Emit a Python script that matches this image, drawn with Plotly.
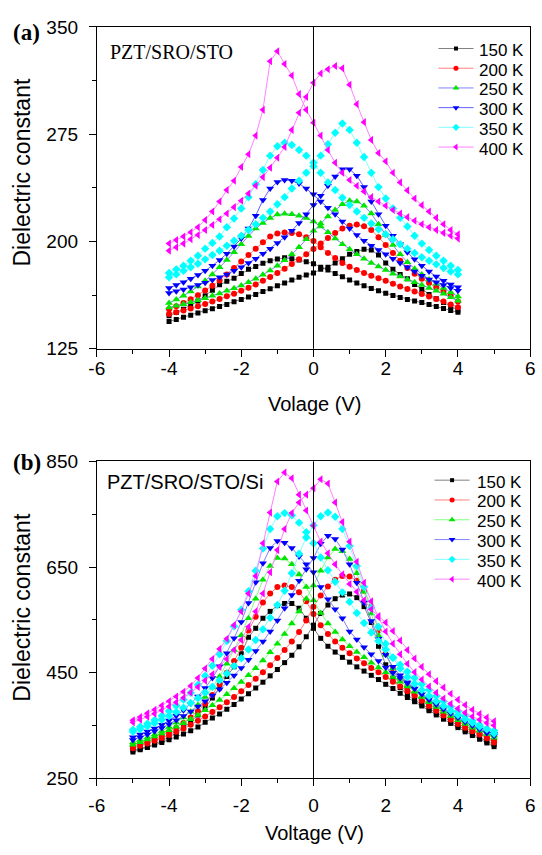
import plotly.graph_objects as go

W, H = 542, 855

# ---------------- data ----------------
temps = ["150 K", "200 K", "250 K", "300 K", "350 K", "400 K"]

volt_a = [-4.0, -3.8, -3.6, -3.4, -3.2, -3.0, -2.8, -2.6, -2.4, -2.2,
          -2.0, -1.8, -1.6, -1.4, -1.2, -1.0, -0.8, -0.6, -0.4, -0.2,
          0.0, 0.2, 0.4, 0.6, 0.8, 1.0, 1.2, 1.4, 1.6, 1.8,
          2.0, 2.2, 2.4, 2.6, 2.8, 3.0, 3.2, 3.4, 3.6, 3.8, 4.0]

volt_b = [-5.0, -4.8, -4.6, -4.4, -4.2, -4.0, -3.8, -3.6, -3.4, -3.2,
          -3.0, -2.8, -2.6, -2.4, -2.2, -2.0, -1.8, -1.6, -1.4, -1.2,
          -1.0, -0.8, -0.6, -0.4, -0.2, 0.0, 0.2, 0.4, 0.6, 0.8,
          1.0, 1.2, 1.4, 1.6, 1.8, 2.0, 2.2, 2.4, 2.6, 2.8,
          3.0, 3.2, 3.4, 3.6, 3.8, 4.0, 4.2, 4.4, 4.6, 4.8, 5.0]

# Panel (a) PZT/SRO/STO: forward sweep (-4 -> 4) and reverse sweep (listed at ascending voltage)
a150_fwd = [144, 145.5, 147, 148.5, 150, 151.5, 153, 154.5, 156, 157.8, 159.5, 161.2, 163, 165, 167,
            169, 171, 173, 175, 176.5, 178, 180.5, 182, 185, 188, 191, 193, 194.5, 194, 190.5,
            185, 180.5, 177, 174, 170, 166.5, 163, 160, 157.3, 154.5, 152]
a150_rev = [148, 150.3, 152.7, 155.5, 158.4, 162, 165.9, 169.7, 172.2, 174.3, 177.7, 180.5, 182.5, 184.8, 186.6,
            187.8, 188.6, 188, 187, 185.8, 184.5, 182, 180, 177.7, 175.3, 173, 171, 169, 167.2, 165.6,
            163.8, 162.2, 160.8, 159.5, 158.4, 157.3, 155.9, 154.5, 153.2, 151.8, 150.5]
a200_fwd = [149.3, 150.5, 151.8, 153.2, 154.7, 156.3, 158, 159.8, 161.7, 163.5, 165.5, 167.7, 170, 172.5, 175.2,
            178, 181, 184.2, 187.5, 191, 194.7, 198.5, 202.5, 206, 209, 211, 211.8, 210.6, 208, 203,
            197.5, 192, 186.5, 181.5, 177.5, 174, 171, 168, 165, 162, 158]
a200_rev = [152.7, 154.8, 157, 159.7, 162.5, 165.7, 169, 172.8, 177, 181.5, 186, 190.5, 195, 199.5, 203.5,
            205.5, 206.3, 206, 205, 203, 200.4, 196, 192, 188.5, 185, 182.3, 180, 178, 176, 174.3,
            172.5, 170.5, 168.6, 166.8, 165, 163.2, 161.5, 159.8, 158, 156, 154]
a250_fwd = [153.8, 155, 156.2, 157.5, 158.9, 160.4, 162, 163.7, 165.5, 167.3, 169.3, 171.5, 174, 176.8, 179.8,
            183, 186.8, 191, 196, 201.5, 207.5, 212.5, 217.5, 222, 226, 228.5, 228, 225, 219.5, 212,
            204.5, 197.5, 191, 185.5, 181, 177, 173.5, 170.5, 167.5, 164.5, 161.5]
a250_rev = [157, 159.5, 162, 165, 168.5, 172.5, 177, 182, 187, 192.5, 198, 203.8, 209, 213, 216.4,
            218.8, 219.4, 219, 218, 216.4, 214, 210.5, 206.5, 202, 198, 194.5, 191, 188, 185, 182.5,
            180, 177.5, 175.5, 173.5, 171.5, 169.5, 167.5, 165.5, 163.5, 161, 158.5]
a300_fwd = [164, 165.2, 166.5, 168, 169.5, 171.2, 173, 175, 177, 179.5, 182, 185, 188, 191.5, 195,
            199, 203, 207.5, 213, 219, 225.5, 232, 239, 245.5, 250.5, 250.5, 246, 238, 228, 219,
            211, 204, 198, 192.5, 187.5, 183, 179, 175.5, 172.5, 170, 168]
a300_rev = [167.5, 169.5, 171.5, 174, 176.5, 179.5, 183, 187, 191.5, 196.5, 202, 209, 218, 229, 237,
            241.5, 243, 242.5, 240.5, 237, 233, 228, 223.5, 219, 214, 209, 204.5, 200.5, 197, 194,
            191, 188, 185, 182, 179, 176, 173.5, 171.5, 169.5, 167.5, 165.5]
a350_fwd = [175, 177, 179.5, 182, 184.5, 187.5, 190.5, 193.5, 197, 200.5, 204, 208, 212, 216.5, 221,
            226, 231, 237, 242.5, 248, 252.5, 260, 268, 276, 282.5, 278, 269, 259, 248, 238,
            230, 223, 216.5, 210.5, 204, 198.5, 194, 190, 186.5, 183, 180]
a350_rev = [178, 180.5, 183, 186.5, 190, 195, 199, 203.5, 210, 216, 223, 231, 240, 250, 260,
            266.5, 269, 267.5, 264, 260, 255, 248, 241.3, 236, 230.5, 225.5, 221, 216.5, 212.5, 208.5,
            205, 201.5, 198, 195, 192, 189, 186.5, 184, 181.5, 179, 177]
a400_fwd = [193.6, 196, 198.5, 201.5, 204.5, 208, 211.5, 215.5, 219.5, 224, 228.5, 233.5, 239, 245, 251.5,
            258.5, 266, 278, 290, 301, 311, 317.5, 320.4, 322.7, 321, 309.5, 296, 283.4, 271, 261.8,
            256, 248, 241.3, 235.7, 230, 225.4, 220.9, 216.5, 212, 208, 205]
a400_rev = [198.6, 201, 203.5, 206.5, 210, 215, 221, 228, 236, 242.5, 252, 261, 274, 292, 326,
            333, 324, 316, 303, 292, 283, 274, 264, 255, 248, 243, 239, 235, 231, 228,
            225, 222, 219.5, 217, 214.5, 212, 210, 208, 206, 204, 202]

# Panel (b) PZT/SRO/STO/Si
b150_fwd = [300, 304, 308.5, 313, 318, 323, 328.5, 334, 340, 347, 356, 364, 372, 381, 390, 400, 410, 421, 432, 444,
            456, 469, 483, 499, 518, 540, 562, 578, 590, 597, 599, 592, 575, 545, 500, 465, 440, 422, 408, 398,
            390, 381, 373, 365, 357, 349, 341, 334, 327, 320, 314]
b150_rev = [303, 306, 310, 315, 321, 328, 336, 346, 357, 370, 384, 402, 421, 443, 461, 486, 517, 534, 553, 566,
            577, 581, 581, 572, 553, 534, 515, 500, 489, 479, 470, 461, 453, 445, 437, 428, 420, 411, 403, 395,
            387, 378, 370, 362, 354, 346, 338, 331, 324, 317, 310]
b200_fwd = [307, 311.5, 316, 321, 326.5, 332, 338, 344.5, 351.5, 359, 367, 375.5, 384.5, 394, 404, 415, 426.5, 438.5, 451, 464,
            478, 493, 509, 527, 549, 575, 596, 613, 626, 633, 632, 624, 605, 575, 530, 486, 457, 437, 421, 408,
            397, 387, 378, 369, 361, 353, 346, 339, 333, 327, 322]
b200_rev = [311, 315, 319.5, 325, 331, 338, 346, 355, 365, 377, 391, 408, 428, 450, 472, 497, 530, 556, 583, 600,
            612, 615, 612, 602, 585, 561, 540, 523, 509, 497, 487, 477, 468, 459, 451, 442, 433, 424, 415, 407,
            398, 390, 382, 374, 366, 358, 350, 342, 334, 326, 318]
b250_fwd = [313.5, 318.5, 323.5, 329, 335, 341, 347.5, 354.5, 362, 370, 379, 388.5, 398.5, 409, 420.5, 432.5, 445, 458.5, 473, 488.5,
            505, 523, 543, 566, 590, 615, 643, 668, 684, 680, 665, 638, 603, 562, 520, 484, 458, 440, 426, 414,
            404, 394, 385, 376, 368, 360, 353, 346, 340, 335, 331]
b250_rev = [318, 322.5, 327.5, 333, 339.5, 347, 355.5, 365, 376, 389, 404, 422, 443, 467, 493, 521, 553, 590, 626, 652,
            667, 666, 655, 636, 612, 587, 563, 543, 527, 513, 500, 489, 479, 469, 460, 451, 442, 433, 424, 415,
            406, 397, 389, 381, 373, 365, 357, 349, 341, 334, 327]
b300_fwd = [322.5, 327.5, 333, 339, 345.5, 352.5, 360, 368, 376.5, 386, 396, 407, 418.5, 431, 444.5, 459, 474.5, 491, 509, 528,
            549, 572, 597, 624, 646, 667, 694, 709, 703, 683, 655, 620, 583, 548, 514, 484, 461, 445, 432, 420,
            409, 399, 390, 381, 373, 365, 358, 351, 345, 339, 334]
b300_rev = [328, 333, 338.5, 344.5, 351.5, 359.5, 368.5, 379, 391, 405, 421, 440, 462, 487, 515, 546, 582, 621, 657, 686,
            699, 696, 686, 670, 655, 640, 612, 589, 570, 553, 528, 513, 498, 485, 472, 460, 450, 440, 430, 420,
            410, 400, 391, 382, 373, 365, 357, 350, 343, 336, 330]
b350_fwd = [338, 343, 348.5, 354.5, 361, 368, 375.5, 383.5, 392.5, 402, 412.5, 423.5, 435.5, 448.5, 462.5, 477.5, 494, 512, 532, 554,
            578, 605, 638, 675, 706, 729, 746, 753, 745, 722, 690, 652, 612, 573, 537, 505, 478, 458, 442, 429,
            417, 406, 396, 387, 378, 370, 362, 355, 348, 344, 340]
b350_rev = [342, 347.5, 353.5, 360.5, 368.5, 377.5, 387.5, 399, 412, 427, 444, 463, 485, 510, 538, 569, 604, 643, 685, 722,
            746, 752, 748, 734, 716, 695, 668, 644, 622, 602, 584, 563, 544, 526, 510, 494, 479, 465, 452, 440,
            428, 417, 406, 396, 386, 377, 368, 359, 351, 343, 335]
b400_fwd = [356, 361, 366.5, 372.5, 379, 386, 394, 402.5, 412, 423, 435, 447, 461, 476, 493, 512, 537, 566, 600, 640,
            682, 722, 752, 772, 787, 799, 816, 808, 772, 735, 698, 660, 620, 585, 555, 528, 505, 485, 467, 451,
            437, 424, 412, 401, 391, 382, 374, 367, 361, 355, 350]
b400_rev = [360, 366, 373, 380, 388, 396, 405, 414, 425, 440, 458, 476, 495, 514, 540, 566, 600, 633, 695, 753,
            812, 829, 818, 787, 757, 728, 698, 676, 655, 636, 618, 603, 587, 570, 557, 545, 529, 511, 493, 477,
            461, 447, 434, 422, 410, 399, 389, 380, 372, 365, 358]

xticks = [-6, -4, -2, 0, 2, 4, 6]
xtick_text = ["-6", "-4", "-2", "0", "2", "4", "6"]
yticks_a = [125, 200, 275, 350]
yticks_b = [250, 450, 650, 850]

# ---------------- styles ----------------
marker_colors = ["#000000", "#ff0000", "#00e600", "#0000ff", "#00ffff", "#ff00ff"]
line_colors_a = ["#808080", "#ff8080", "#8080ff", "#6060ff", "#80ffff", "#ff80ff"]
line_colors_b = ["#808080", "#ff8080", "#80ff80", "#8080ff", "#80ffff", "#ff80ff"]
symbols = ["square", "circle", "triangle-up", "triangle-down", "diamond", "triangle-left"]
msize = [5, 6, 7, 7, 6.5, 7]

SANS = "Liberation Sans, Arial, sans-serif"
SERIF = "Liberation Serif, Times New Roman, serif"

set_a = [(a150_fwd, a150_rev), (a200_fwd, a200_rev), (a250_fwd, a250_rev),
         (a300_fwd, a300_rev), (a350_fwd, a350_rev), (a400_fwd, a400_rev)]
set_b = [(b150_fwd, b150_rev), (b200_fwd, b200_rev), (b250_fwd, b250_rev),
         (b300_fwd, b300_rev), (b350_fwd, b350_rev), (b400_fwd, b400_rev)]

fig = go.Figure()

for i, (fw, rv) in enumerate(set_a):
    fig.add_trace(go.Scatter(
        x=volt_a + volt_a[::-1], y=fw + rv[::-1], mode="lines+markers",
        name=temps[i], showlegend=False, xaxis="x", yaxis="y",
        line=dict(color=line_colors_a[i], width=1),
        marker=dict(symbol=symbols[i], size=msize[i], color=marker_colors[i], line=dict(width=0))))

for i, (fw, rv) in enumerate(set_b):
    fig.add_trace(go.Scatter(
        x=volt_b + volt_b[::-1], y=fw + rv[::-1], mode="lines+markers",
        name=temps[i], showlegend=False, xaxis="x2", yaxis="y2",
        line=dict(color=line_colors_b[i], width=1),
        marker=dict(symbol=symbols[i], size=msize[i], color=marker_colors[i], line=dict(width=0))))

# ---------------- manual legends (pixel overlay axes) ----------------
leg_a = dict(x0=441, x1=477, xm=459, xt=481, y0=39.5, dy=20.2)
leg_b = dict(x0=437, x1=473, xm=455, xt=478, y0=482, dy=20.3)
annotations = []
for leg, lcols in ((leg_a, line_colors_a), (leg_b, line_colors_b)):
    for i, t in enumerate(temps):
        yy = leg["y0"] + i * leg["dy"]
        fig.add_trace(go.Scatter(
            x=[leg["x0"], leg["x1"]], y=[yy, yy], mode="lines", showlegend=False,
            xaxis="x3", yaxis="y3", line=dict(color=lcols[i], width=1), hoverinfo="skip"))
        fig.add_trace(go.Scatter(
            x=[leg["xm"]], y=[yy], mode="markers", showlegend=False,
            xaxis="x3", yaxis="y3", hoverinfo="skip",
            marker=dict(symbol=symbols[i], size=msize[i] - 1, color=marker_colors[i], line=dict(width=0))))
        annotations.append(dict(x=leg["xt"], y=yy + 2, xref="x3", yref="y3", text=t, showarrow=False,
                                xanchor="left", yanchor="middle",
                                font=dict(family=SANS, size=17, color="black")))

def px(xp):
    return xp / W

def py(yp):
    return 1 - yp / H

annotations += [
    dict(x=px(3), y=py(23), xref="paper", yref="paper", text="<b>(a)</b>", showarrow=False,
         xanchor="left", yanchor="middle", font=dict(family=SERIF, size=23, color="black")),
    dict(x=px(3), y=py(464), xref="paper", yref="paper", text="<b>(b)</b>", showarrow=False,
         xanchor="left", yanchor="middle", font=dict(family=SERIF, size=23, color="black")),
    dict(x=px(102), y=py(43), xref="paper", yref="paper", text="PZT/SRO/STO", showarrow=False,
         xanchor="left", yanchor="middle", font=dict(family=SERIF, size=20, color="black")),
    dict(x=px(99), y=py(484), xref="paper", yref="paper", text="PZT/SRO/STO/Si", showarrow=False,
         xanchor="left", yanchor="middle", font=dict(family=SANS, size=20, color="black")),
    dict(x=px(14), y=py(166), xref="paper", yref="paper", text="Dielectric constant", showarrow=False,
         textangle=-90, xanchor="center", yanchor="middle", font=dict(family=SANS, size=23, color="black")),
    dict(x=px(14), y=py(612), xref="paper", yref="paper", text="Dielectric constant", showarrow=False,
         textangle=-90, xanchor="center", yanchor="middle", font=dict(family=SANS, size=23, color="black")),
    dict(x=px(314), y=py(404), xref="paper", yref="paper", text="Volage (V)", showarrow=False,
         xanchor="center", yanchor="middle", font=dict(family=SANS, size=20, color="black")),
    dict(x=px(314), y=py(844), xref="paper", yref="paper", text="Voltage (V)", showarrow=False,
         xanchor="center", yanchor="middle", font=dict(family=SANS, size=20, color="black")),
]

axis_common = dict(showgrid=False, zeroline=False, showline=True, linecolor="black", linewidth=1,
                   mirror=True, ticks="outside", ticklen=7, tickwidth=1, tickcolor="black",
                   tickfont=dict(family=SANS, size=19, color="black"))

xdom = [91 / W, 535 / W]
ydom_a = [1 - 347.3 / H, 1 - 17.3 / H]
ydom_b = [1 - 787.7 / H, 1 - 462.7 / H]

fig.update_layout(
    width=W, height=H, margin=dict(l=0, r=0, t=0, b=0),
    paper_bgcolor="white", plot_bgcolor="rgba(0,0,0,0)",
    showlegend=False,
    xaxis=dict(domain=xdom, anchor="y", range=[-6, 6], tickvals=xticks, ticktext=xtick_text,
               minor=dict(tickvals=[-5, -3, -1, 1, 3, 5], ticks="outside", ticklen=4, tickcolor="black"),
               ticklabelstandoff=-5, **axis_common),
    yaxis=dict(domain=ydom_a, anchor="x", range=[125, 350], tickvals=yticks_a,
               minor=dict(tickvals=[162.5, 237.5, 312.5], ticks="outside", ticklen=4, tickcolor="black"),
               ticklabelstandoff=7, **axis_common),
    xaxis2=dict(domain=xdom, anchor="y2", range=[-6, 6], tickvals=xticks, ticktext=xtick_text,
                minor=dict(tickvals=[-5, -3, -1, 1, 3, 5], ticks="outside", ticklen=4, tickcolor="black"),
                ticklabelstandoff=3, **axis_common),
    yaxis2=dict(domain=ydom_b, anchor="x2", range=[250, 850], tickvals=yticks_b,
                minor=dict(tickvals=[350, 550, 750], ticks="outside", ticklen=4, tickcolor="black"),
                ticklabelstandoff=7, **axis_common),
    xaxis3=dict(domain=[0, 1], anchor="y3", range=[0, W], visible=False, fixedrange=True),
    yaxis3=dict(domain=[0, 1], anchor="x3", range=[H, 0], visible=False, fixedrange=True),
    annotations=annotations,
    shapes=[
        dict(type="line", xref="x", yref="y domain", x0=0, x1=0, y0=0, y1=1,
             line=dict(color="black", width=1)),
        dict(type="line", xref="x2", yref="y2 domain", x0=0, x1=0, y0=0, y1=1,
             line=dict(color="black", width=1)),
    ],
)

fig.write_html("out.html")
